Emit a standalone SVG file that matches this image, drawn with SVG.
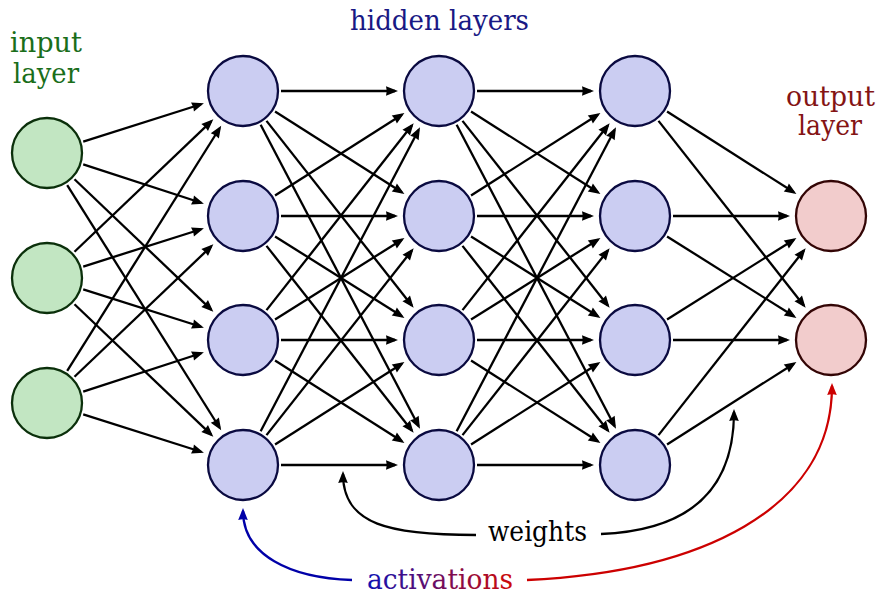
<svg xmlns="http://www.w3.org/2000/svg" width="879" height="594" viewBox="0 0 879 594">
<style>
.t text{font-family:"DejaVu Serif","Liberation Serif",serif;font-size:27px}
.in circle{fill:#c2e6c2;stroke:#0b300b;stroke-width:2.3}
.hid circle{fill:#cbcdf2;stroke:#0a0a40;stroke-width:2.3}
.out circle{fill:#f2cccc;stroke:#330505;stroke-width:2.3}
#connectors line{stroke:#000;stroke-width:2.3;marker-end:url(#ah)}
.c{fill:none;stroke-width:2.3}
</style>
<defs>
<marker id="ah" markerUnits="userSpaceOnUse" viewBox="-10 -6 14 12" markerWidth="14" markerHeight="12" refX="0" refY="0" orient="auto">
<path d="M3,0 L-9,-4.8 Q-7.5,0 -9,4.8 Z" fill="#000"/>
</marker>
<marker id="ahb" markerUnits="userSpaceOnUse" viewBox="-10 -6 14 12" markerWidth="14" markerHeight="12" refX="0" refY="0" orient="auto">
<path d="M3,0 L-9,-4.8 Q-7.5,0 -9,4.8 Z" fill="#0000a8"/>
</marker>
<marker id="ahr" markerUnits="userSpaceOnUse" viewBox="-10 -6 14 12" markerWidth="14" markerHeight="12" refX="0" refY="0" orient="auto">
<path d="M3,0 L-9,-4.8 Q-7.5,0 -9,4.8 Z" fill="#cc0000"/>
</marker>
<linearGradient id="grad" gradientUnits="userSpaceOnUse" x1="367" y1="0" x2="513" y2="0">
<stop offset="0" stop-color="#1010b4"/>
<stop offset="1" stop-color="#d00808"/>
</linearGradient>
</defs>
<g id="connectors">
<line x1="83.23" y1="141.54" x2="201.05" y2="104.27"/>
<line x1="83.23" y1="164.46" x2="201.05" y2="202.73"/>
<line x1="74.49" y1="179.23" x2="211.17" y2="309.63"/>
<line x1="67.21" y1="185.18" x2="219.60" y2="427.74"/>
<line x1="74.49" y1="251.77" x2="211.17" y2="121.37"/>
<line x1="83.23" y1="266.54" x2="201.05" y2="229.27"/>
<line x1="83.23" y1="289.46" x2="201.05" y2="326.73"/>
<line x1="74.49" y1="304.23" x2="211.17" y2="434.63"/>
<line x1="67.21" y1="370.82" x2="219.60" y2="128.26"/>
<line x1="74.49" y1="376.77" x2="211.17" y2="246.37"/>
<line x1="83.23" y1="391.54" x2="201.05" y2="353.27"/>
<line x1="83.23" y1="414.46" x2="201.05" y2="451.73"/>
<line x1="281" y1="91" x2="395" y2="91"/>
<line x1="275.04" y1="111.43" x2="401.90" y2="192.34"/>
<line x1="266.50" y1="120.86" x2="411.79" y2="305.42"/>
<line x1="260.64" y1="124.66" x2="418.58" y2="426.03"/>
<line x1="275.04" y1="195.57" x2="401.90" y2="114.66"/>
<line x1="281" y1="216" x2="395" y2="216"/>
<line x1="275.04" y1="236.43" x2="401.90" y2="316.34"/>
<line x1="266.50" y1="245.86" x2="411.79" y2="430.42"/>
<line x1="266.50" y1="310.14" x2="411.79" y2="125.58"/>
<line x1="275.04" y1="319.57" x2="401.90" y2="239.66"/>
<line x1="281" y1="340" x2="395" y2="340"/>
<line x1="275.04" y1="360.43" x2="401.90" y2="441.34"/>
<line x1="260.64" y1="431.34" x2="418.58" y2="129.97"/>
<line x1="266.50" y1="435.14" x2="411.79" y2="250.58"/>
<line x1="275.04" y1="444.57" x2="401.90" y2="363.66"/>
<line x1="281" y1="465" x2="395" y2="465"/>
<line x1="477" y1="91" x2="591" y2="91"/>
<line x1="471.04" y1="111.43" x2="597.90" y2="192.34"/>
<line x1="462.50" y1="120.86" x2="607.79" y2="305.42"/>
<line x1="456.64" y1="124.66" x2="614.58" y2="426.03"/>
<line x1="471.04" y1="195.57" x2="597.90" y2="114.66"/>
<line x1="477" y1="216" x2="591" y2="216"/>
<line x1="471.04" y1="236.43" x2="597.90" y2="316.34"/>
<line x1="462.50" y1="245.86" x2="607.79" y2="430.42"/>
<line x1="462.50" y1="310.14" x2="607.79" y2="125.58"/>
<line x1="471.04" y1="319.57" x2="597.90" y2="239.66"/>
<line x1="477" y1="340" x2="591" y2="340"/>
<line x1="471.04" y1="360.43" x2="597.90" y2="441.34"/>
<line x1="456.64" y1="431.34" x2="614.58" y2="129.97"/>
<line x1="462.50" y1="435.14" x2="607.79" y2="250.58"/>
<line x1="471.04" y1="444.57" x2="597.90" y2="363.66"/>
<line x1="477" y1="465" x2="591" y2="465"/>
<line x1="667.04" y1="111.43" x2="793.90" y2="192.34"/>
<line x1="658.50" y1="120.86" x2="803.79" y2="305.42"/>
<line x1="673" y1="216" x2="787" y2="216"/>
<line x1="667.04" y1="236.43" x2="793.90" y2="316.34"/>
<line x1="667.04" y1="319.57" x2="793.90" y2="239.66"/>
<line x1="673" y1="340" x2="787" y2="340"/>
<line x1="658.50" y1="435.14" x2="803.79" y2="250.58"/>
<line x1="667.04" y1="444.57" x2="793.90" y2="363.66"/>
<path class="c" stroke="#000" marker-end="url(#ah)" d="M476,535 C390,535 343,525 343,474"/>
<path class="c" stroke="#000" marker-end="url(#ah)" d="M601,534 C700,530 734,480 734,412"/>
<path class="c" stroke="#0000a8" marker-end="url(#ahb)" d="M352,580 C290,578 243,555 243,511"/>
<path class="c" stroke="#cc0000" marker-end="url(#ahr)" d="M527,580 C700,572 832,510 832,386"/>
</g>
<g id="input-1" class="in"><circle cx="47" cy="153" r="35"/></g>
<g id="input-2" class="in"><circle cx="47" cy="278" r="35"/></g>
<g id="input-3" class="in"><circle cx="47" cy="403" r="35"/></g>
<g id="h1-1" class="hid"><circle cx="243" cy="91" r="35"/></g>
<g id="h1-2" class="hid"><circle cx="243" cy="216" r="35"/></g>
<g id="h1-3" class="hid"><circle cx="243" cy="340" r="35"/></g>
<g id="h1-4" class="hid"><circle cx="243" cy="465" r="35"/></g>
<g id="h2-1" class="hid"><circle cx="439" cy="91" r="35"/></g>
<g id="h2-2" class="hid"><circle cx="439" cy="216" r="35"/></g>
<g id="h2-3" class="hid"><circle cx="439" cy="340" r="35"/></g>
<g id="h2-4" class="hid"><circle cx="439" cy="465" r="35"/></g>
<g id="h3-1" class="hid"><circle cx="635" cy="91" r="35"/></g>
<g id="h3-2" class="hid"><circle cx="635" cy="216" r="35"/></g>
<g id="h3-3" class="hid"><circle cx="635" cy="340" r="35"/></g>
<g id="h3-4" class="hid"><circle cx="635" cy="465" r="35"/></g>
<g id="output-1" class="out"><circle cx="831" cy="216" r="35"/></g>
<g id="output-2" class="out"><circle cx="831" cy="340" r="35"/></g>
<g id="labels" class="t">
<text x="10" y="52" textLength="72" lengthAdjust="spacingAndGlyphs" fill="#1a6e1a">input</text>
<text x="13" y="83" textLength="66" lengthAdjust="spacingAndGlyphs" fill="#1a6e1a">layer</text>
<text x="350" y="30" textLength="179" lengthAdjust="spacingAndGlyphs" fill="#191985">hidden layers</text>
<text x="786" y="106" textLength="89" lengthAdjust="spacingAndGlyphs" fill="#841414">output</text>
<text x="798" y="135" textLength="64" lengthAdjust="spacingAndGlyphs" fill="#841414">layer</text>
<text x="488" y="541" textLength="99" lengthAdjust="spacingAndGlyphs" fill="#000">weights</text>
<text x="367" y="589" textLength="146" lengthAdjust="spacingAndGlyphs" fill="url(#grad)">activations</text>
</g>
</svg>
